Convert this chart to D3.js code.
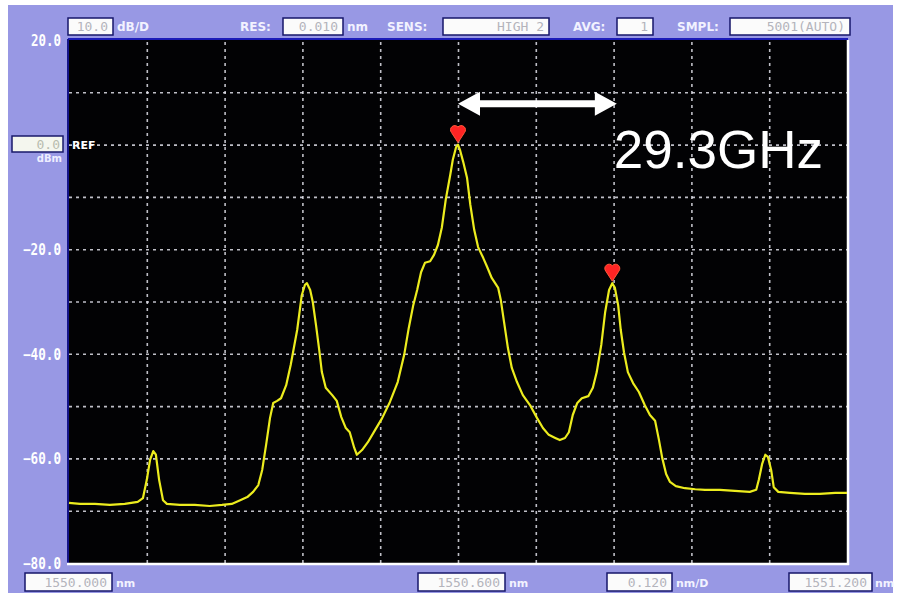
<!DOCTYPE html>
<html>
<head>
<meta charset="utf-8">
<script src="https://cdn.jsdelivr.net/npm/d3@7"></script>
<style>
  body { margin: 0; background: #ffffff; }
  svg { display: block; }
</style>
</head>
<body>
<svg id="osa" width="900" height="593"></svg>
<script>
// Optical spectrum trace: wavelength (nm) and level (dBm)
const wavelength = [
  1550.000, 1550.017, 1550.040, 1550.063, 1550.086, 1550.106, 1550.114, 1550.120, 1550.125, 1550.130,
  1550.134, 1550.139, 1550.145, 1550.151, 1550.171, 1550.194, 1550.217, 1550.236, 1550.251, 1550.264,
  1550.275, 1550.284, 1550.292, 1550.298, 1550.304, 1550.310, 1550.315, 1550.321, 1550.327, 1550.335,
  1550.342, 1550.352, 1550.359, 1550.364, 1550.367, 1550.372, 1550.376, 1550.381, 1550.386, 1550.390,
  1550.396, 1550.406, 1550.413, 1550.420, 1550.427, 1550.433, 1550.440, 1550.444, 1550.452, 1550.461,
  1550.472, 1550.483, 1550.495, 1550.507, 1550.517, 1550.524, 1550.531, 1550.537, 1550.543, 1550.549,
  1550.557, 1550.563, 1550.569, 1550.575, 1550.581, 1550.588, 1550.592, 1550.597, 1550.600, 1550.603,
  1550.608, 1550.614, 1550.619, 1550.625, 1550.631, 1550.639, 1550.645, 1550.652, 1550.662, 1550.666,
  1550.671, 1550.677, 1550.683, 1550.691, 1550.700, 1550.711, 1550.722, 1550.731, 1550.740, 1550.750,
  1550.757, 1550.765, 1550.771, 1550.777, 1550.784, 1550.791, 1550.801, 1550.808, 1550.814, 1550.821,
  1550.827, 1550.833, 1550.838, 1550.842, 1550.847, 1550.851, 1550.856, 1550.862, 1550.870, 1550.879,
  1550.888, 1550.896, 1550.904, 1550.910, 1550.915, 1550.921, 1550.927, 1550.936, 1550.950, 1550.966,
  1550.981, 1551.004, 1551.027, 1551.050, 1551.060, 1551.064, 1551.069, 1551.074, 1551.078, 1551.083,
  1551.087, 1551.094, 1551.112, 1551.135, 1551.158, 1551.182, 1551.200
];
const power = [
  -68.5, -68.7, -68.7, -68.9, -68.7, -68.3, -67.6, -64.1, -60.3, -58.6,
  -59.3, -64.1, -68.0, -68.7, -68.9, -68.9, -69.1, -68.9, -68.7, -68.0,
  -67.4, -66.4, -65.1, -62.2, -57.4, -52.3, -49.4, -49.0, -48.5, -46.0,
  -42.1, -35.4, -28.8, -26.8, -26.5, -27.8, -30.1, -34.5, -39.3, -43.5,
  -46.5, -47.9, -49.0, -52.1, -54.2, -55.0, -58.0, -59.3, -58.4, -56.9,
  -54.6, -52.3, -49.2, -45.4, -40.2, -35.1, -30.7, -27.8, -24.4, -22.6,
  -22.3, -21.1, -19.2, -15.9, -10.6, -5.8, -2.9, -0.5, 0.0, -1.0,
  -3.3, -6.4, -11.5, -16.3, -19.6, -21.7, -23.4, -25.5, -27.4, -29.7,
  -33.9, -38.9, -42.7, -45.4, -47.9, -49.8, -52.3, -54.2, -55.5, -56.1,
  -56.5, -56.1, -55.0, -51.7, -49.4, -48.5, -48.1, -46.5, -43.5, -38.3,
  -32.0, -27.8, -26.5, -27.4, -30.7, -35.4, -39.7, -43.5, -45.6, -47.3,
  -49.8, -51.7, -52.8, -56.5, -59.9, -63.0, -64.5, -65.3, -65.7, -65.9,
  -66.0, -66.0, -66.2, -66.4, -66.0, -64.1, -61.1, -59.3, -59.7, -62.2,
  -65.5, -66.4, -66.6, -66.8, -66.8, -66.6, -66.6
];

// Marked peaks
const peakWavelength = [1550.600, 1550.838];
const peakPower = [0.0, -26.5];

// Axis settings
const startWavelength = 1550.000;
const spanPerDiv = 0.120;
const divisions = 10;
const levelTop = 20;
const levelPerDiv = 10;
const levelTicks = [20, -20, -40, -60, -80];
const refLevel = "0.0";

// Header / footer fields
const headerNames = ["", "RES:", "SENS:", "AVG:", "SMPL:"];
const headerValues = ["10.0", "0.010", "HIGH 2", "1", "5001(AUTO)"];
const headerUnits = ["dB/D", "nm", "", "", ""];
const footerValues = ["1550.000", "1550.600", "0.120", "1551.200"];
const footerUnits = ["nm", "nm", "nm/D", "nm"];

// Spacing annotation
const spacingLabel = "29.3GHz";
const arrowStart = 1550.600;
const arrowEnd = 1550.845;
const arrowLevel = 7.8;
const labelLevel = -4.5;

const svg = d3.select("#osa");
const W = 900, H = 593;
const plot = { left: 69, right: 847, top: 40, bottom: 563 };
const purple = "#9898e4";

const x = d3.scaleLinear()
  .domain([startWavelength, startWavelength + spanPerDiv * divisions])
  .range([plot.left, plot.right]);
const y = d3.scaleLinear()
  .domain([levelTop - levelPerDiv * divisions, levelTop])
  .range([plot.bottom, plot.top]);

// Panel background
svg.append("rect").attr("width", W).attr("height", H).attr("fill", "#ffffff");
svg.append("rect").attr("x", 8).attr("y", 5).attr("width", 885).attr("height", 588).attr("fill", purple);

// Screen area
svg.append("rect")
  .attr("x", plot.left).attr("y", plot.top)
  .attr("width", plot.right - plot.left).attr("height", plot.bottom - plot.top)
  .attr("fill", "#020204");

// Grid from axes
const xGridTicks = d3.range(1, divisions).map(i => startWavelength + i * spanPerDiv);
const yGridTicks = d3.range(1, divisions).map(i => levelTop - i * levelPerDiv);

const gx = svg.append("g")
  .attr("transform", `translate(0,${plot.bottom})`)
  .call(d3.axisBottom(x).tickValues(xGridTicks).tickSize(-(plot.bottom - plot.top)).tickFormat(""));
const gy = svg.append("g")
  .attr("transform", `translate(${plot.left},0)`)
  .call(d3.axisLeft(y).tickValues(yGridTicks).tickSize(-(plot.right - plot.left)).tickFormat(""));
[gx, gy].forEach(g => {
  g.select(".domain").remove();
  g.selectAll(".tick line")
    .attr("stroke", "#e0e0ea")
    .attr("stroke-width", 1.6)
    .attr("stroke-dasharray", "3,4")
    .attr("opacity", 0.85);
});

// Frame lines
svg.append("line").attr("x1", plot.left - 1).attr("x2", plot.right + 1).attr("y1", plot.top - 1).attr("y2", plot.top - 1)
  .attr("stroke", "#1c1cb8").attr("stroke-width", 2);
svg.append("line").attr("x1", plot.left - 1).attr("x2", plot.left - 1).attr("y1", plot.top - 1).attr("y2", plot.bottom)
  .attr("stroke", "#14148a").attr("stroke-width", 2);
svg.append("line").attr("x1", plot.left - 2).attr("x2", plot.right + 2).attr("y1", plot.bottom + 1).attr("y2", plot.bottom + 1)
  .attr("stroke", "#ffffff").attr("stroke-width", 2.5);
svg.append("line").attr("x1", plot.right + 1).attr("x2", plot.right + 1).attr("y1", plot.top).attr("y2", plot.bottom + 2)
  .attr("stroke", "#ffffff").attr("stroke-width", 2.5);

// Level labels
const yLab = d3.axisLeft(y).tickValues(levelTicks).tickSize(0).tickFormat(d3.format(".1f"));
const gyl = svg.append("g").attr("transform", `translate(${plot.left - 5},0)`).call(yLab);
gyl.select(".domain").remove();
gyl.selectAll("text")
  .attr("fill", "#ffffff")
  .attr("font-family", "'DejaVu Sans Mono', monospace")
  .attr("font-weight", "bold")
  .attr("font-size", 15)
  .attr("dy", "0.35em")
  .attr("dx", 0)
  .attr("textLength", d => d < 0 ? 38 : 30)
  .attr("lengthAdjust", "spacingAndGlyphs");

// REF box
svg.append("rect").attr("x", 12).attr("y", 136).attr("width", 51).attr("height", 16)
  .attr("fill", "#f4f6ee").attr("stroke", "#18186a").attr("stroke-width", 1.5);
svg.append("text").attr("x", 60).attr("y", 149).attr("text-anchor", "end")
  .attr("font-family", "'DejaVu Sans Mono', monospace").attr("font-size", 13)
  .attr("fill", "#b8bcae").text(refLevel);
svg.append("text").attr("x", 62).attr("y", 162).attr("text-anchor", "end")
  .attr("font-family", "'DejaVu Sans', sans-serif").attr("font-size", 10).attr("font-weight", "bold")
  .attr("fill", "#eeeeff").text("dBm");
svg.append("text").attr("x", 72).attr("y", y(0) + 4)
  .attr("font-family", "'DejaVu Sans', sans-serif").attr("font-size", 11).attr("font-weight", "bold")
  .attr("fill", "#ffffff").text("REF");

// Header row
const hdrFont = "'DejaVu Sans', sans-serif";
const hdr = [
  { nameX: 0, box: [68, 113], unitX: 117 },
  { nameX: 240, box: [283, 343], unitX: 347 },
  { nameX: 387, box: [443, 549], unitX: 0 },
  { nameX: 573, box: [617, 653], unitX: 0 },
  { nameX: 677, box: [730, 850], unitX: 0 }
];
hdr.forEach((h, i) => {
  if (headerNames[i]) {
    svg.append("text").attr("x", h.nameX).attr("y", 31)
      .attr("font-family", hdrFont).attr("font-size", 12).attr("font-weight", "bold")
      .attr("fill", "#f2f2ff").text(headerNames[i]);
  }
  svg.append("rect").attr("x", h.box[0]).attr("y", 18).attr("width", h.box[1] - h.box[0]).attr("height", 17)
    .attr("fill", "#fbfbfb").attr("stroke", "#16166a").attr("stroke-width", 1.5);
  svg.append("text").attr("x", h.box[1] - 5).attr("y", 31).attr("text-anchor", "end")
    .attr("font-family", "'DejaVu Sans Mono', monospace").attr("font-size", 13)
    .attr("fill", "#b4b4bc").text(headerValues[i]);
  if (headerUnits[i]) {
    svg.append("text").attr("x", h.unitX).attr("y", 31)
      .attr("font-family", hdrFont).attr("font-size", 12).attr("font-weight", "bold")
      .attr("fill", "#f2f2ff").text(headerUnits[i]);
  }
});

// Footer row
const ftr = [
  { box: [25, 112], unitX: 116 },
  { box: [418, 505], unitX: 509 },
  { box: [607, 672], unitX: 676 },
  { box: [789, 872], unitX: 875 }
];
ftr.forEach((f, i) => {
  svg.append("rect").attr("x", f.box[0]).attr("y", 573).attr("width", f.box[1] - f.box[0]).attr("height", 18)
    .attr("fill", "#fbfbfb").attr("stroke", "#16166a").attr("stroke-width", 1.5);
  svg.append("text").attr("x", f.box[1] - 5).attr("y", 587).attr("text-anchor", "end")
    .attr("font-family", "'DejaVu Sans Mono', monospace").attr("font-size", 13)
    .attr("fill", "#b4b4bc").text(footerValues[i]);
  svg.append("text").attr("x", f.unitX).attr("y", 587)
    .attr("font-family", hdrFont).attr("font-size", 11).attr("font-weight", "bold")
    .attr("fill", "#f2f2ff").text(footerUnits[i]);
});

// Spectrum trace
const trace = wavelength.map((w, i) => [w, power[i]]);
const line = d3.line().x(d => x(d[0])).y(d => y(d[1])).curve(d3.curveLinear);
svg.append("path").datum(trace)
  .attr("d", line)
  .attr("fill", "none")
  .attr("stroke", "#ecec1e")
  .attr("stroke-width", 2.2)
  .attr("stroke-linejoin", "round");

// Peak markers
const markerPath = "M0,-2 L-6.5,-12 A3.8,3.8 0 0 1 0,-17.5 A3.8,3.8 0 0 1 6.5,-12 Z";
peakWavelength.forEach((w, i) => {
  svg.append("path")
    .attr("d", markerPath)
    .attr("transform", `translate(${x(w)},${y(peakPower[i])})`)
    .attr("fill", "#ff2424")
    .attr("stroke", "#ff5a3a")
    .attr("stroke-width", 1);
});

// Spacing arrow
const ax1 = x(arrowStart), ax2 = x(arrowEnd), ay = y(arrowLevel);
const hl = 22, hh = 12, sh = 3.5;
const arrowPts = [
  [ax1, ay], [ax1 + hl, ay - hh], [ax1 + hl, ay - sh], [ax2 - hl, ay - sh], [ax2 - hl, ay - hh],
  [ax2, ay], [ax2 - hl, ay + hh], [ax2 - hl, ay + sh], [ax1 + hl, ay + sh], [ax1 + hl, ay + hh]
];
svg.append("path")
  .attr("d", d3.line()(arrowPts) + "Z")
  .attr("fill", "#ffffff");

svg.append("text")
  .attr("x", ax2 - 3)
  .attr("y", y(labelLevel))
  .attr("font-family", "'Liberation Sans', Arial, sans-serif")
  .attr("font-size", 53)
  .attr("fill", "#ffffff")
  .text(spacingLabel);
</script>
</body>
</html>
